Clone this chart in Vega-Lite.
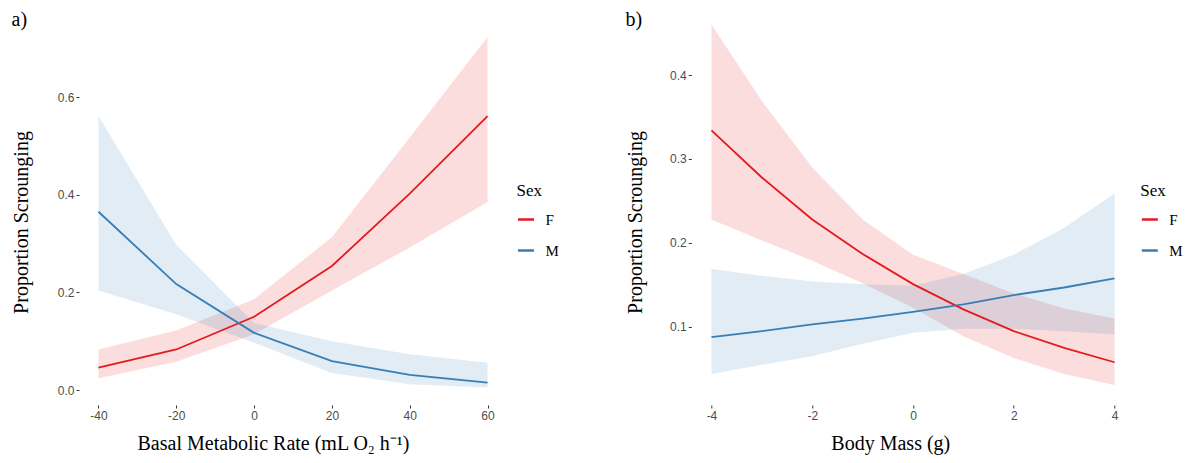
{
  "$schema": "https://vega.github.io/schema/vega-lite/v6.json",
  "background": "white",
  "padding": {"left": 11, "top": 10, "right": 5, "bottom": 5},
  "config": {
    "view": {"stroke": null},
    "axis": {
      "domain": false,
      "grid": false,
      "tickSize": 3,
      "tickColor": "#333333",
      "labelFont": "Liberation Sans",
      "labelFontSize": 12,
      "labelColor": "#4d4d4d",
      "labelPadding": 2,
      "titleFont": "Liberation Serif",
      "titleFontSize": 20,
      "titleFontWeight": "normal",
      "titleColor": "black"
    },
    "legend": {
      "symbolType": "stroke",
      "symbolSize": 256,
      "symbolStrokeWidth": 2.5,
      "titleFont": "Liberation Serif",
      "titleFontSize": 17,
      "titleFontWeight": "normal",
      "titleColor": "black",
      "labelFont": "Liberation Serif",
      "labelFontSize": 15,
      "labelColor": "black",
      "labelOffset": 10,
      "rowPadding": 13,
      "titlePadding": 10
    },
    "title": {
      "anchor": "start",
      "frame": "bounds",
      "font": "Liberation Serif",
      "fontSize": 20,
      "fontWeight": "normal",
      "color": "black",
      "offset": -10
    }
  },
  "datasets": {
    "bmr": [
      {"x": -40, "sex": "F", "fit": 0.046, "lo": 0.024, "hi": 0.083},
      {"x": -20, "sex": "F", "fit": 0.083, "lo": 0.058, "hi": 0.122},
      {"x": 0, "sex": "F", "fit": 0.150, "lo": 0.114, "hi": 0.186},
      {"x": 20, "sex": "F", "fit": 0.254, "lo": 0.204, "hi": 0.313},
      {"x": 40, "sex": "F", "fit": 0.402, "lo": 0.292, "hi": 0.517},
      {"x": 60, "sex": "F", "fit": 0.561, "lo": 0.385, "hi": 0.723},
      {"x": -40, "sex": "M", "fit": 0.365, "lo": 0.204, "hi": 0.561},
      {"x": -20, "sex": "M", "fit": 0.217, "lo": 0.155, "hi": 0.297},
      {"x": 0, "sex": "M", "fit": 0.117, "lo": 0.097, "hi": 0.137},
      {"x": 20, "sex": "M", "fit": 0.059, "lo": 0.035, "hi": 0.100},
      {"x": 40, "sex": "M", "fit": 0.031, "lo": 0.012, "hi": 0.073},
      {"x": 60, "sex": "M", "fit": 0.015, "lo": 0.005, "hi": 0.056}
    ],
    "mass": [
      {"x": -4, "sex": "F", "fit": 0.334, "lo": 0.228, "hi": 0.460},
      {"x": -3, "sex": "F", "fit": 0.278, "lo": 0.203, "hi": 0.369},
      {"x": -2, "sex": "F", "fit": 0.228, "lo": 0.179, "hi": 0.290},
      {"x": -1, "sex": "F", "fit": 0.187, "lo": 0.152, "hi": 0.228},
      {"x": 0, "sex": "F", "fit": 0.151, "lo": 0.123, "hi": 0.186},
      {"x": 1, "sex": "F", "fit": 0.121, "lo": 0.089, "hi": 0.163},
      {"x": 2, "sex": "F", "fit": 0.095, "lo": 0.063, "hi": 0.140},
      {"x": 3, "sex": "F", "fit": 0.075, "lo": 0.044, "hi": 0.122},
      {"x": 4, "sex": "F", "fit": 0.058, "lo": 0.031, "hi": 0.110},
      {"x": -4, "sex": "M", "fit": 0.088, "lo": 0.044, "hi": 0.169},
      {"x": -3, "sex": "M", "fit": 0.095, "lo": 0.055, "hi": 0.161},
      {"x": -2, "sex": "M", "fit": 0.103, "lo": 0.065, "hi": 0.154},
      {"x": -1, "sex": "M", "fit": 0.110, "lo": 0.080, "hi": 0.151},
      {"x": 0, "sex": "M", "fit": 0.118, "lo": 0.093, "hi": 0.149},
      {"x": 1, "sex": "M", "fit": 0.127, "lo": 0.098, "hi": 0.163},
      {"x": 2, "sex": "M", "fit": 0.138, "lo": 0.098, "hi": 0.186},
      {"x": 3, "sex": "M", "fit": 0.147, "lo": 0.095, "hi": 0.218},
      {"x": 4, "sex": "M", "fit": 0.158, "lo": 0.091, "hi": 0.259}
    ]
  },
  "bounds": "flush",
  "spacing": 184.3,
  "resolve": {"scale": {"color": "independent"}, "legend": {"color": "independent"}},
  "hconcat": [
    {
      "title": {"text": "a)"},
      "width": 428,
      "height": 385,
      "data": {"name": "bmr"},
      "encoding": {
        "x": {
          "field": "x",
          "type": "quantitative",
          "scale": {"domain": [-45, 65], "nice": false, "zero": false},
          "axis": {
            "values": [-40, -20, 0, 20, 40, 60],
            "labelExpr": "toString(datum.value)",
            "title": "Basal Metabolic Rate (mL O₂ h⁻¹)",
            "titleX": 194,
            "titleY": 44,
            "titleBaseline": "alphabetic",
            "titleAlign": "center"
          }
        },
        "color": {
          "field": "sex",
          "type": "nominal",
          "title": "Sex",
          "scale": {"domain": ["F", "M"], "range": ["#E41A1C", "#377EB8"]},
          "legend": {"orient": "none", "legendX": 437.5, "legendY": 163, "symbolOpacity": 1}
        }
      },
      "layer": [
        {
          "mark": {"type": "area", "opacity": 0.15},
          "encoding": {
            "y": {
              "field": "lo",
              "type": "quantitative",
              "scale": {"domain": [-0.0307, 0.7577], "nice": false, "zero": false},
              "axis": {
                "values": [0, 0.2, 0.4, 0.6],
                "format": ".1f",
                "title": "Proportion Scrounging",
                "titleX": -57.5,
                "titleY": 202,
                "titleAngle": -90,
                "titleAlign": "center",
                "titleBaseline": "middle"
              }
            },
            "y2": {"field": "hi"}
          }
        },
        {
          "mark": {"type": "line", "strokeWidth": 1.8},
          "encoding": {
            "y": {"field": "fit", "type": "quantitative", "title": "Proportion Scrounging"}
          }
        }
      ]
    },
    {
      "title": {"text": "b)"},
      "width": 443.4,
      "height": 385,
      "data": {"name": "mass"},
      "encoding": {
        "x": {
          "field": "x",
          "type": "quantitative",
          "scale": {"domain": [-4.4, 4.4], "nice": false, "zero": false},
          "axis": {
            "values": [-4, -2, 0, 2, 4],
            "labelExpr": "toString(datum.value)",
            "title": "Body Mass (g)",
            "titleX": 199,
            "titleY": 44,
            "titleBaseline": "alphabetic",
            "titleAlign": "center"
          }
        },
        "color": {
          "field": "sex",
          "type": "nominal",
          "title": "Sex",
          "scale": {"domain": ["F", "M"], "range": ["#E41A1C", "#377EB8"]},
          "legend": {"orient": "none", "legendX": 449, "legendY": 163, "symbolOpacity": 1}
        }
      },
      "layer": [
        {
          "mark": {"type": "area", "opacity": 0.15},
          "encoding": {
            "y": {
              "field": "lo",
              "type": "quantitative",
              "scale": {"domain": [0.0071, 0.4655], "nice": false, "zero": false},
              "axis": {
                "values": [0.1, 0.2, 0.3, 0.4],
                "format": ".1f",
                "title": "Proportion Scrounging",
                "titleX": -55.8,
                "titleY": 202,
                "titleAngle": -90,
                "titleAlign": "center",
                "titleBaseline": "middle"
              }
            },
            "y2": {"field": "hi"}
          }
        },
        {
          "mark": {"type": "line", "strokeWidth": 1.8},
          "encoding": {
            "y": {"field": "fit", "type": "quantitative", "title": "Proportion Scrounging"}
          }
        }
      ]
    }
  ]
}
